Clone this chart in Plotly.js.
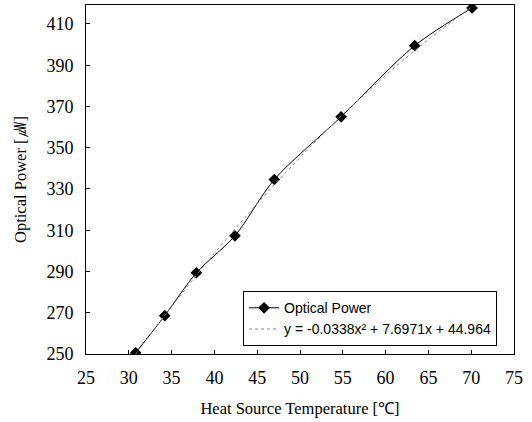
<!DOCTYPE html>
<html>
<head>
<meta charset="utf-8">
<script src="https://cdn.plot.ly/plotly-3.0.1.min.js"></script>
<style>html,body{margin:0;padding:0;background:#fff;}#chart{width:532px;height:422px;}</style>
</head>
<body>
<div id="chart"></div>
<script>
const temperature = [30.8, 34.2, 37.9, 42.4, 47.0, 54.8, 63.4, 70.1];
const opticalPower = [250.6, 268.6, 289.4, 307.3, 334.6, 365.0, 399.5, 417.8];

// Polynomial trendline values as drawn (y = -0.0338x² + 7.6971x + 44.964)
const trendX = [30.8, 35, 40, 45, 50, 55, 60, 65, 70];
const trendY = [250.0, 273.0, 298.8, 322.9, 345.3, 366.1, 385.1, 402.5, 418.1];

const seriesNames = ['Optical Power', 'y = -0.0338x\u00B2 + 7.6971x + 44.964'];
const xTicks = [25, 30, 35, 40, 45, 50, 55, 60, 65, 70, 75];
const yTicks = [250, 270, 290, 310, 330, 350, 370, 390, 410];

const tickFont = {family: 'Liberation Serif, serif', size: 18, color: '#000'};
const titleFont = {family: 'Liberation Serif, serif', size: 16.5, color: '#000'};

const data = [
  {
    x: temperature, y: opticalPower, name: seriesNames[0],
    mode: 'lines+markers', type: 'scatter',
    line: {color: '#000', width: 1, shape: 'spline', smoothing: 0.8},
    marker: {symbol: 'diamond', size: 9, color: '#000'}
  },
  {
    x: trendX, y: trendY, name: seriesNames[1],
    mode: 'lines', type: 'scatter',
    line: {color: '#888', width: 1, dash: 'dot', shape: 'spline'}
  }
];

const layout = {
  width: 532, height: 422,
  margin: {l: 86, r: 18, t: 5, b: 68},
  paper_bgcolor: '#fff', plot_bgcolor: '#fff',
  showlegend: true,
  legend: {
    x: 0.367, y: 0.18, xanchor: 'left', yanchor: 'top',
    bgcolor: '#fff', bordercolor: '#000', borderwidth: 1,
    font: {family: 'Liberation Sans, Arial, sans-serif', size: 14, color: '#000'},
    tracegroupgap: 0, itemwidth: 30
  },
  xaxis: {
    range: [25, 75], tickvals: xTicks, ticktext: xTicks.map(String),
    ticks: 'inside', ticklen: 4, tickcolor: '#000',
    showline: true, linecolor: '#000', linewidth: 1, mirror: true,
    showgrid: false, zeroline: false,
    tickfont: tickFont, ticklabelstandoff: 7,
    title: {text: 'Heat Source Temperature [\u2103]', font: titleFont, standoff: 15}
  },
  yaxis: {
    range: [250, 419.2], tickvals: yTicks, ticktext: yTicks.map(String),
    ticks: 'inside', ticklen: 4, tickcolor: '#000',
    showline: true, linecolor: '#000', linewidth: 1, mirror: true,
    showgrid: false, zeroline: false,
    tickfont: tickFont, ticklabelstandoff: 8,
    title: {text: 'Optical Power [\u33BC]', font: titleFont, standoff: 15}
  }
};

Plotly.newPlot('chart', data, layout, {displayModeBar: false, staticPlot: true});
</script>
</body>
</html>
